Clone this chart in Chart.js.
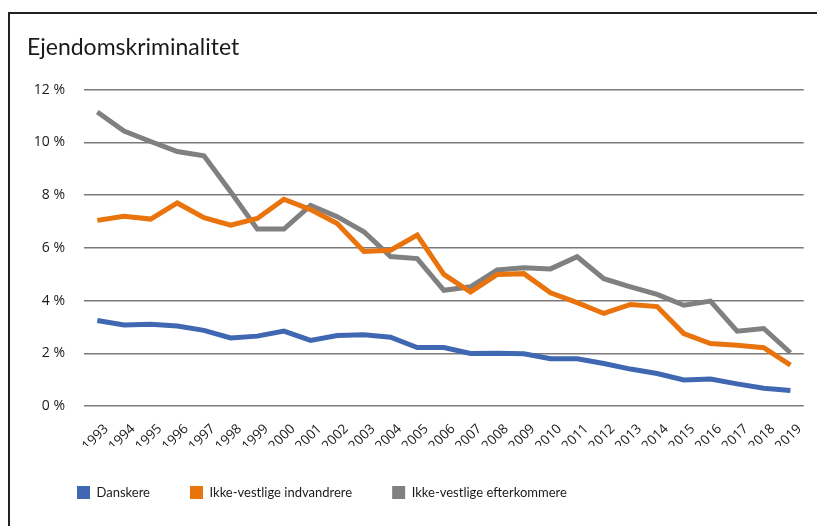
<!DOCTYPE html>
<html>
<head>
<meta charset="utf-8">
<script src="https://cdn.jsdelivr.net/npm/chart.js@4"></script>
<style>
  html, body { margin: 0; padding: 0; background: #fff; }
  #wrap { position: relative; width: 817px; height: 526px; }
  #frame {
    position: absolute; left: 8px; top: 12px; right: 0; bottom: 0;
    border-top: 2px solid #222; border-left: 2px solid #222;
    pointer-events: none;
  }
</style>
</head>
<body>
<div id="wrap">
  <canvas id="chart" width="817" height="526"></canvas>
  <div id="frame"></div>
</div>
<script>
'use strict';

var years = ['1993', '1994', '1995', '1996', '1997', '1998', '1999', '2000', '2001',
  '2002', '2003', '2004', '2005', '2006', '2007', '2008', '2009', '2010', '2011',
  '2012', '2013', '2014', '2015', '2016', '2017', '2018', '2019'];

// andel i procent
var danskere = [3.24, 3.07, 3.1, 3.03, 2.87, 2.58, 2.65, 2.84, 2.49, 2.67, 2.7, 2.61,
  2.22, 2.22, 1.99, 2.0, 1.98, 1.79, 1.79, 1.61, 1.4, 1.23, 0.99, 1.02, 0.84, 0.67, 0.59];
var indvandrere = [7.04, 7.2, 7.09, 7.7, 7.14, 6.86, 7.11, 7.84, 7.45, 6.92, 5.86, 5.91,
  6.48, 4.99, 4.32, 4.99, 5.02, 4.29, 3.92, 3.51, 3.85, 3.77, 2.75, 2.37, 2.3, 2.21, 1.55];
var efterkommere = [11.15, 10.43, 10.03, 9.65, 9.49, 8.13, 6.71, 6.71, 7.61, 7.18, 6.61,
  5.67, 5.59, 4.39, 4.52, 5.16, 5.24, 5.2, 5.66, 4.83, 4.52, 4.23, 3.82, 3.98, 2.84, 2.94, 2.02];

var yTicks = [0, 2, 4, 6, 8, 10, 12];

var seriesNames = ['Danskere', 'Ikke-vestlige indvandrere', 'Ikke-vestlige efterkommere'];
var seriesColors = ['#4068B2', '#E9730C', '#808080'];

function lineSet(i, values) {
  return {
    label: seriesNames[i],
    data: values,
    borderColor: seriesColors[i],
    backgroundColor: seriesColors[i],
    borderWidth: 5,
    pointRadius: 0,
    pointHoverRadius: 0,
    tension: 0,
    fill: false
  };
}

// skub legenden lidt ind fra venstre kant
var legendShift = {
  id: 'legendShift',
  afterLayout: function(c) {
    if (c.legend) c.legend.left += 10;
  }
};

var ctx = document.getElementById('chart');
var chart = new Chart(ctx, {
  type: 'line',
  data: {
    labels: years,
    datasets: [
      lineSet(0, danskere),
      lineSet(1, indvandrere),
      lineSet(2, efterkommere)
    ]
  },
  plugins: [legendShift],
  options: {
    responsive: false,
    animation: false,
    layout: {
      padding: { left: 27, right: 7, top: 24, bottom: 17 }
    },
    plugins: {
      title: {
        display: true,
        text: 'Ejendomskriminalitet',
        align: 'start',
        color: '#1a1a1a',
        font: { family: 'Lato', size: 23, weight: 'normal' },
        padding: { top: 10, bottom: 28 }
      },
      legend: {
        position: 'bottom',
        align: 'start',
        labels: {
          boxWidth: 13,
          boxHeight: 13,
          padding: 40,
          color: '#1a1a1a',
          font: { family: 'Lato', size: 13 },
          generateLabels: function(c) {
            return Chart.defaults.plugins.legend.labels.generateLabels(c).map(function(item) {
              item.lineWidth = 0;
              item.fillStyle = seriesColors[item.datasetIndex];
              return item;
            });
          }
        }
      },
      tooltip: { enabled: false }
    },
    scales: {
      x: {
        offset: true,
        grid: { display: false, drawTicks: false },
        border: { display: false },
        afterFit: function(axis) { axis.height = 40; },
        ticks: {
          minRotation: 45,
          maxRotation: 45,
          autoSkip: false,
          padding: 15,
          labelOffset: 9,
          color: '#1a1a1a',
          font: { family: 'Open Sans', size: 13.5 }
        }
      },
      y: {
        min: 0,
        max: 12,
        afterBuildTicks: function(axis) {
          axis.ticks = yTicks.map(function(v) { return { value: v }; });
        },
        afterFit: function(axis) { axis.width = 57; },
        grid: {
          color: '#7a7a7a',
          lineWidth: 1.5,
          drawTicks: false
        },
        border: { display: false },
        ticks: {
          padding: 19,
          color: '#1a1a1a',
          font: { family: 'Open Sans', size: 14 },
          callback: function(v) { return v + ' %'; }
        }
      }
    }
  }
});
</script>
</body>
</html>
